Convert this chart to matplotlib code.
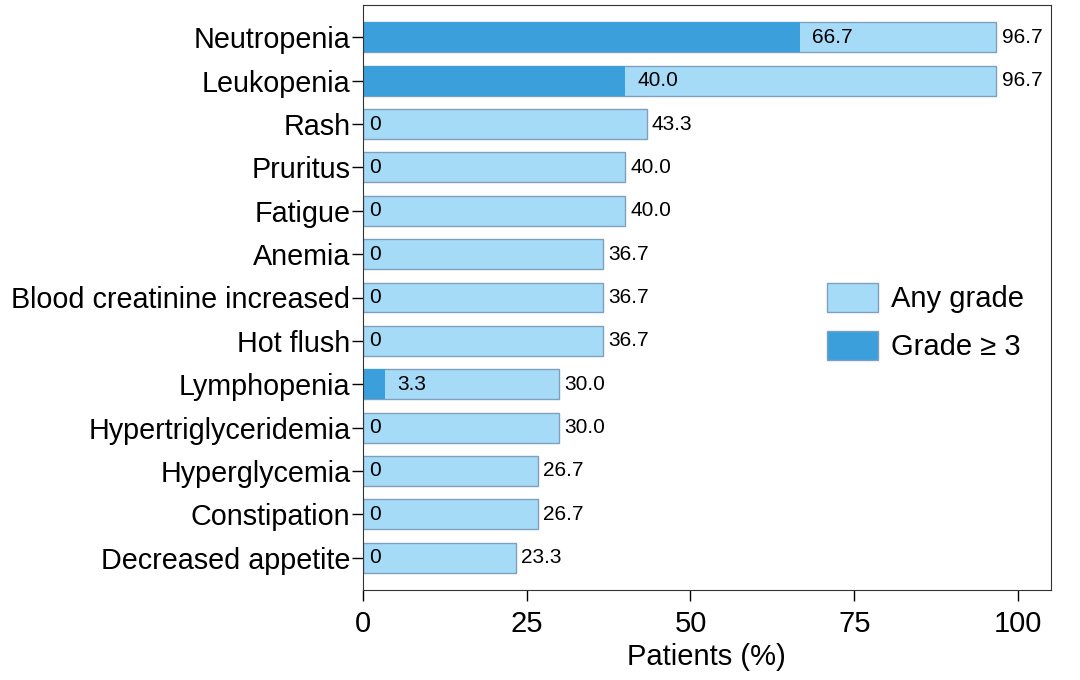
import matplotlib.pyplot as plt
from matplotlib.patches import Patch

plt.rcParams['font.family'] = ['Liberation Sans', 'DejaVu Sans']

events = ['Neutropenia', 'Leukopenia', 'Rash', 'Pruritus', 'Fatigue', 'Anemia',
          'Blood creatinine increased', 'Hot flush', 'Lymphopenia',
          'Hypertriglyceridemia', 'Hyperglycemia', 'Constipation',
          'Decreased appetite']
any_grade = [96.7, 96.7, 43.3, 40.0, 40.0, 36.7, 36.7, 36.7, 30.0, 30.0, 26.7, 26.7, 23.3]
grade3 = [66.7, 40.0, 0, 0, 0, 0, 0, 0, 3.3, 0, 0, 0, 0]

light = '#a6dbf8'
dark = '#3a9fda'
edge = '#7f9fbd'

fig = plt.figure(figsize=(10.8, 6.8), dpi=100)
ax = fig.add_axes([0.336, 0.132, 0.637, 0.861])

y = list(range(len(events)))
ax.barh(y, any_grade, height=0.69, color=light, edgecolor=edge, linewidth=1)
ax.barh(y, grade3, height=0.69, color=dark, edgecolor='none')

for yi, a, g in zip(y, any_grade, grade3):
    ax.text(a + 0.8, yi, f'{a:.1f}', va='center', ha='left', fontsize=15)
    if g > 0:
        ax.text(g + 1.9, yi, f'{g:.1f}', va='center', ha='left', fontsize=15)
    else:
        ax.text(1.0, yi, '0', va='center', ha='left', fontsize=15)

ax.set_yticks(y)
ax.set_yticklabels(events, fontsize=20.7)
ax.set_xlim(0, 105)
ax.set_ylim(len(events) - 0.25, -0.75)
ax.set_xticks([0, 25, 50, 75, 100])
ax.tick_params(axis='x', labelsize=21, length=8, width=1, pad=6)
ax.tick_params(axis='y', length=8, width=1, pad=1)
ax.set_xlabel('Patients (%)', fontsize=21, labelpad=4)
for s in ax.spines.values():
    s.set_color('#333333')

handles = [Patch(facecolor=light, edgecolor=edge, label='Any grade'),
           Patch(facecolor=dark, edgecolor=edge, label='Grade \u2265 3')]
ax.legend(handles=handles, loc='center left', bbox_to_anchor=(0.674, 0.458),
          frameon=False, fontsize=21, handlelength=1.75, handleheight=1.15,
          handletextpad=0.45, labelspacing=0.62, borderpad=0, borderaxespad=0)

fig.savefig('out.png', dpi=100)
